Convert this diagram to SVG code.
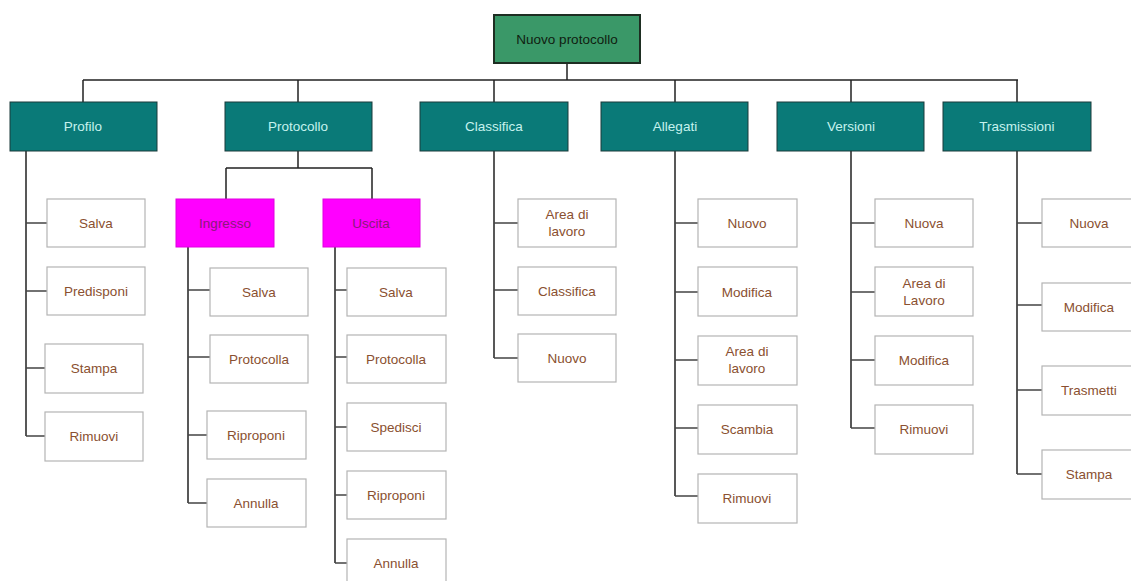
<svg xmlns="http://www.w3.org/2000/svg" width="1131" height="581" viewBox="0 0 1131 581">
<style>
text{font-family:"Liberation Sans",Arial,sans-serif;font-size:13.5px;text-anchor:middle;dominant-baseline:central}
.root rect{fill:#3a9868;stroke:#1e2e22;stroke-width:2}
.root text{fill:#102010}
.top rect{fill:#0a7a78;stroke:#1a3a3a;stroke-width:1}
.top text{fill:#c6f2ee}
.mag rect{fill:#ff00ff;stroke:#e000e0;stroke-width:1}
.mag text{fill:#8a1a7a}
.leaf rect{fill:#ffffff;stroke:#b4b4b4;stroke-width:1.2}
.leaf text{fill:#8a5030}
.c path{fill:none;stroke:#222;stroke-width:1.5}
.c .b{stroke:#444;stroke-width:1.3}
</style>
<rect width="1131" height="581" fill="#ffffff"/>
<g class="c">
<path d="M567 63V80M83 80H1018M83 80V102M298 80V102M494 80V102M675 80V102M851 80V102M1017 80V102"/>
<path d="M26 151V436M494 151V358M675 151V496M851 151V428M1017 151V474M188 247V503M335 247V563"/>
<path d="M298 151V168M226 168H372M226 168V199M372 168V199"/>
<path class="b" d="M26 223H47M26 291H47M26 368H45M26 436H45"/>
<path class="b" d="M188 290H210M188 357H210M188 435H207M188 503H207"/>
<path class="b" d="M335 290H347M335 357H347M335 427H347M335 495H347M335 563H347"/>
<path class="b" d="M494 223H518M494 290H518M494 358H518"/>
<path class="b" d="M675 223H698M675 292H698M675 360H698M675 428H698M675 496H698"/>
<path class="b" d="M851 223H875M851 292H875M851 360H875M851 428H875"/>
<path class="b" d="M1017 223H1042M1017 305H1042M1017 390H1042M1017 474H1042"/>
</g>
<g id="n-root" class="root"><rect x="494" y="15" width="146" height="48"/><text x="567" y="39">Nuovo protocollo</text></g>
<g id="n-profilo" class="top"><rect x="10" y="102" width="147" height="49"/><text x="83" y="126">Profilo</text></g>
<g id="n-protocollo" class="top"><rect x="225" y="102" width="147" height="49"/><text x="298" y="126">Protocollo</text></g>
<g id="n-classifica" class="top"><rect x="420" y="102" width="148" height="49"/><text x="494" y="126">Classifica</text></g>
<g id="n-allegati" class="top"><rect x="601" y="102" width="147" height="49"/><text x="675" y="126">Allegati</text></g>
<g id="n-versioni" class="top"><rect x="777" y="102" width="147" height="49"/><text x="851" y="126">Versioni</text></g>
<g id="n-trasmissioni" class="top"><rect x="943" y="102" width="148" height="49"/><text x="1017" y="126">Trasmissioni</text></g>
<g id="n-ingresso" class="mag"><rect x="176" y="199" width="98" height="48"/><text x="225" y="223">Ingresso</text></g>
<g id="n-uscita" class="mag"><rect x="323" y="199" width="97" height="48"/><text x="371" y="223">Uscita</text></g>
<g id="p-salva" class="leaf"><rect x="47" y="199" width="98" height="48"/><text x="96" y="223">Salva</text></g>
<g id="p-predisponi" class="leaf"><rect x="47" y="267" width="98" height="48"/><text x="96" y="291">Predisponi</text></g>
<g id="p-stampa" class="leaf"><rect x="45" y="344" width="98" height="49"/><text x="94" y="368">Stampa</text></g>
<g id="p-rimuovi" class="leaf"><rect x="45" y="412" width="98" height="49"/><text x="94" y="436">Rimuovi</text></g>
<g id="i-salva" class="leaf"><rect x="210" y="268" width="98" height="48"/><text x="259" y="292">Salva</text></g>
<g id="i-protocolla" class="leaf"><rect x="210" y="335" width="98" height="48"/><text x="259" y="359">Protocolla</text></g>
<g id="i-riproponi" class="leaf"><rect x="207" y="411" width="99" height="48"/><text x="256" y="435">Riproponi</text></g>
<g id="i-annulla" class="leaf"><rect x="207" y="479" width="99" height="48"/><text x="256" y="503">Annulla</text></g>
<g id="u-salva" class="leaf"><rect x="347" y="268" width="99" height="48"/><text x="396" y="292">Salva</text></g>
<g id="u-protocolla" class="leaf"><rect x="347" y="335" width="99" height="48"/><text x="396" y="359">Protocolla</text></g>
<g id="u-spedisci" class="leaf"><rect x="347" y="403" width="99" height="48"/><text x="396" y="427">Spedisci</text></g>
<g id="u-riproponi" class="leaf"><rect x="347" y="471" width="99" height="48"/><text x="396" y="495">Riproponi</text></g>
<g id="u-annulla" class="leaf"><rect x="347" y="539" width="99" height="48"/><text x="396" y="563">Annulla</text></g>
<g id="c-area" class="leaf"><rect x="518" y="199" width="98" height="48"/><text x="567" y="214">Area di</text><text x="567" y="231">lavoro</text></g>
<g id="c-classifica" class="leaf"><rect x="518" y="267" width="98" height="48"/><text x="567" y="291">Classifica</text></g>
<g id="c-nuovo" class="leaf"><rect x="518" y="334" width="98" height="48"/><text x="567" y="358">Nuovo</text></g>
<g id="a-nuovo" class="leaf"><rect x="698" y="199" width="99" height="48"/><text x="747" y="223">Nuovo</text></g>
<g id="a-modifica" class="leaf"><rect x="698" y="267" width="99" height="49"/><text x="747" y="292">Modifica</text></g>
<g id="a-area" class="leaf"><rect x="698" y="336" width="99" height="49"/><text x="747" y="351">Area di</text><text x="747" y="368">lavoro</text></g>
<g id="a-scambia" class="leaf"><rect x="698" y="405" width="99" height="49"/><text x="747" y="429">Scambia</text></g>
<g id="a-rimuovi" class="leaf"><rect x="698" y="474" width="99" height="49"/><text x="747" y="498">Rimuovi</text></g>
<g id="v-nuova" class="leaf"><rect x="875" y="199" width="98" height="48"/><text x="924" y="223">Nuova</text></g>
<g id="v-area" class="leaf"><rect x="875" y="267" width="98" height="49"/><text x="924" y="283">Area di</text><text x="924" y="300">Lavoro</text></g>
<g id="v-modifica" class="leaf"><rect x="875" y="336" width="98" height="49"/><text x="924" y="360">Modifica</text></g>
<g id="v-rimuovi" class="leaf"><rect x="875" y="405" width="98" height="49"/><text x="924" y="429">Rimuovi</text></g>
<g id="t-nuova" class="leaf"><rect x="1042" y="199" width="98" height="48"/><text x="1089" y="223">Nuova</text></g>
<g id="t-modifica" class="leaf"><rect x="1042" y="283" width="98" height="48"/><text x="1089" y="307">Modifica</text></g>
<g id="t-trasmetti" class="leaf"><rect x="1042" y="366" width="98" height="49"/><text x="1089" y="390">Trasmetti</text></g>
<g id="t-stampa" class="leaf"><rect x="1042" y="450" width="98" height="49"/><text x="1089" y="474">Stampa</text></g>
</svg>
